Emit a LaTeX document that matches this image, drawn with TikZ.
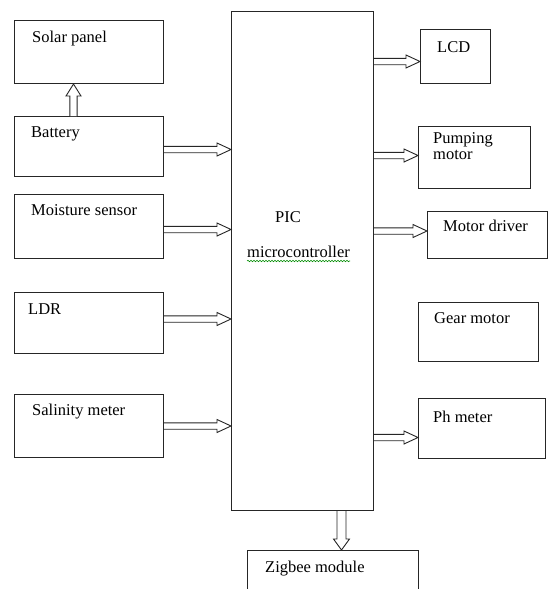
\documentclass[tikz,border=0pt]{standalone}
\usepackage{fontspec}
\setmainfont{Liberation Serif}
\usetikzlibrary{calc,decorations.pathmorphing}
% horizontal block arrow from #1 to #2 (tip), left to right
\newcommand\harrow[2]{%
  \draw[arr] let \p1=(#1), \p2=(#2) in
    (\x1,{\y1+3.2pt}) -- ({\x2-14pt},{\y1+3.2pt}) -- ({\x2-14pt},{\y1+6.5pt}) -- (\x2,\y1)
    -- ({\x2-14pt},{\y1-6.5pt}) -- ({\x2-14pt},{\y1-3.2pt}) -- (\x1,{\y1-3.2pt});}
% vertical block arrow from #1 to #2 (tip); #3 shaft half, #4 head half, #5 head length (positive when pointing up)
\newcommand\varrow[5]{%
  \draw[arr] let \p1=(#1), \p2=(#2) in
    ({\x1+#3},\y1) -- ({\x1+#3},{\y2-#5}) -- ({\x1+#4},{\y2-#5}) -- (\x1,\y2)
    -- ({\x1-#4},{\y2-#5}) -- ({\x1-#3},{\y2-#5}) -- ({\x1-#3},\y1);}
\begin{document}
\begin{tikzpicture}[x=1pt,y=-1pt,
  box/.style={draw=black!85,line width=1pt,inner sep=0pt,anchor=north west},
  lbl/.style={anchor=base west,inner sep=0pt,font=\fontsize{16.5}{18}\selectfont},
  arr/.style={draw=black!85,line width=0.9pt,fill=white,line join=miter}]
\useasboundingbox (0,0) rectangle (550,589);
% boxes
\node[box,minimum width=149pt,minimum height=63pt] (solar) at (14,20) {};
\node[box,minimum width=149pt,minimum height=60pt] (bat) at (14,116) {};
\node[box,minimum width=149pt,minimum height=64pt] (moist) at (14,194) {};
\node[box,minimum width=149pt,minimum height=61pt] (ldr) at (14,292) {};
\node[box,minimum width=149pt,minimum height=63pt] (sal) at (14,394) {};
\node[box,minimum width=142pt,minimum height=499pt] (mcu) at (231,11) {};
\node[box,minimum width=70pt,minimum height=54pt] (lcd) at (420,29) {};
\node[box,minimum width=112pt,minimum height=62pt] (pump) at (418,126) {};
\node[box,minimum width=120pt,minimum height=47pt] (mdrv) at (427,211) {};
\node[box,minimum width=120pt,minimum height=59pt] (gear) at (418,302) {};
\node[box,minimum width=127pt,minimum height=60pt] (ph) at (418,398) {};
\node[box,minimum width=171pt,minimum height=60pt] (zig) at (247,550) {};
% labels
\node[lbl] (tsolar) at (32,42) {Solar panel};
\node[lbl] (tbat) at (31,137) {Battery};
\node[lbl] (tmoist) at (31,215) {Moisture sensor};
\node[lbl] (tldr) at (28,314) {LDR};
\node[lbl] (tsal) at (32,415) {Salinity meter};
\node[lbl] (tpic) at (275,222) {PIC};
\node[lbl] (tmcu) at (247,257) {microcontroller};
\draw[green!55!black,line width=0.6pt,decorate,decoration={snake,amplitude=0.7pt,segment length=3pt}]
  ($(tmcu.base west)+(0,4)$) coordinate (sq1) -- (sq1 -| tmcu.base east);
\node[lbl] (tlcd) at (437,52) {LCD};
\node[lbl,align=left,anchor=north west] (tpump) at (433,132) {Pumping\\[-2pt]motor};
\node[lbl] (tmdrv) at (443,231) {Motor driver};
\node[lbl] (tgear) at (434,323) {Gear motor};
\node[lbl] (tph) at (433,422) {Ph meter};
\node[lbl] (tzig) at (265,572) {Zigbee module};
% arrows
\varrow{$(bat.north)+(-15.5,0)$}{solar.south}{3.6pt}{7.5pt}{12pt}
\harrow{$(bat.east)+(0,3)$}{$(mcu.west |- bat.east)+(0,3)$}
\harrow{$(moist.east)+(0,3)$}{$(mcu.west |- moist.east)+(0,3)$}
\harrow{$(ldr.east)+(0,-4)$}{$(mcu.west |- ldr.east)+(0,-4)$}
\harrow{sal.east}{mcu.west |- sal.east}
\harrow{$(mcu.east |- lcd.west)+(0,5)$}{$(lcd.west)+(0,5)$}
\harrow{$(mcu.east |- pump.west)+(0,-2)$}{$(pump.west)+(0,-2)$}
\harrow{$(mcu.east |- mdrv.west)+(0,-4)$}{$(mdrv.west)+(0,-4)$}
\harrow{$(mcu.east |- ph.west)+(0,9)$}{$(ph.west)+(0,9)$}
\varrow{$(mcu.south)+(39,0)$}{zig.north}{4.5pt}{8pt}{-11pt}
\end{tikzpicture}
\end{document}
